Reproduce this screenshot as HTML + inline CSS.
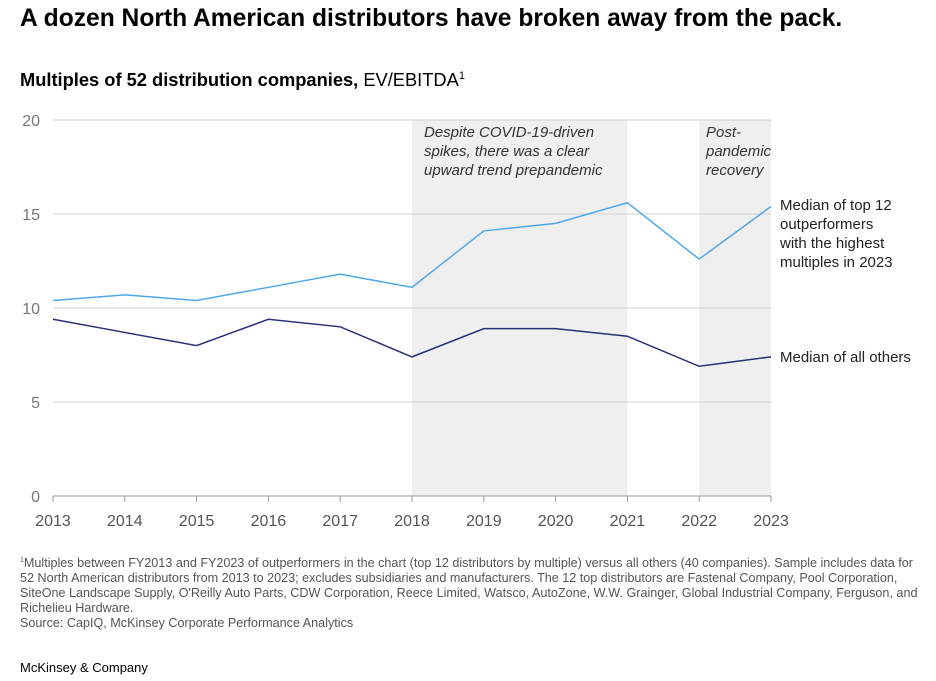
<!DOCTYPE html>
<html><head><meta charset="utf-8"><style>
body{margin:0;background:#fff;font-family:"Liberation Sans",sans-serif;color:#000;}
#wrap{position:relative;width:936px;height:681px;overflow:hidden;}
.t{position:absolute;white-space:nowrap;}
</style></head><body><div id="wrap">
<div class="t" style="left:20px;top:5px;font-size:24.6px;font-weight:bold;">A dozen North American distributors have broken away from the pack.</div>
<div class="t" style="left:20px;top:69px;font-size:18.3px;"><b>Multiples of 52 distribution companies,</b> EV/EBITDA<sup style="font-size:11px">1</sup></div>
<svg id="chart" width="936" height="681" style="position:absolute;left:0;top:0" font-family="Liberation Sans, sans-serif"></svg>
<div class="t" style="left:20px;top:553px;font-size:12.6px;color:#555;line-height:15px;white-space:normal;width:905px;"><sup style="font-size:7px">1</sup>Multiples between FY2013 and FY2023 of outperformers in the chart (top 12 distributors by multiple) versus all others (40 companies). Sample includes data for 52 North American distributors from 2013 to 2023; excludes subsidiaries and manufacturers. The 12 top distributors are Fastenal Company, Pool Corporation, SiteOne Landscape Supply, O'Reilly Auto Parts, CDW Corporation, Reece Limited, Watsco, AutoZone, W.W. Grainger, Global Industrial Company, Ferguson, and Richelieu Hardware.<br>Source: CapIQ, McKinsey Corporate Performance Analytics</div>
<div class="t" style="left:20px;top:660px;font-size:13px;">McKinsey &amp; Company</div>
</div>
<script>
const years=[2013,2014,2015,2016,2017,2018,2019,2020,2021,2022,2023];
const topSeries=[10.4,10.7,10.4,11.1,11.8,11.1,14.1,14.5,15.6,12.6,15.4];
const otherSeries=[9.4,8.7,8.0,9.4,9.0,7.4,8.9,8.9,8.5,6.9,7.4];
const yTicks=[0,5,10,15,20];
const shadeRanges=[[2018,2021],[2022,2023]];
const NS="http://www.w3.org/2000/svg";
const svg=document.getElementById('chart');
const x=y=>53+(y-2013)*(771-53)/10;
const yv=v=>496-v*(496-120)/20;
function mk(tag,attrs,parent){const e=document.createElementNS(NS,tag);for(const k in attrs)e.setAttribute(k,attrs[k]);(parent||svg).appendChild(e);return e;}
shadeRanges.forEach((r,i)=>{const e=mk('rect',{x:x(r[0]),y:yv(20),width:x(r[1])-x(r[0]),height:yv(0)-yv(20),fill:'#efefef'});

});
yTicks.forEach(t=>{const l=mk('line',{x1:53,x2:771,y1:yv(t),y2:yv(t),stroke:t===0?'#999':'#d0d0d0','stroke-width':1});


const tx=mk('text',{x:40,y:yv(t)+6,'text-anchor':'end','font-size':16,fill:'#777'});tx.textContent=t;

});
years.forEach(yr=>{const l=mk('line',{x1:x(yr),x2:x(yr),y1:yv(0),y2:yv(0)+6,stroke:'#999'});


const tx=mk('text',{x:x(yr),y:526,'text-anchor':'middle','font-size':16,fill:'#555'});tx.textContent=yr;

});
function line(vals,color,name){const p=mk('polyline',{points:vals.map((v,i)=>x(years[i])+','+yv(v)).join(' '),fill:'none',stroke:color,'stroke-width':1.5});

}
line(topSeries,'#4ea8ec','line-top-12');
line(otherSeries,'#2a2f7a','line-all-others');
function lbl(lines,xx,yy,name,italic,color){const t=mk('text',{x:xx,y:yy,'font-size':15,fill:color||'#222','font-style':italic?'italic':'normal'});


lines.forEach((s,i)=>{const ts=mk('tspan',{x:xx,dy:i?19:0},t);ts.textContent=s;});}
lbl(['Despite COVID-19-driven','spikes, there was a clear','upward trend prepandemic'],424,137,'annotation-prepandemic',true,'#333');
lbl(['Post-','pandemic','recovery'],706,137,'annotation-postpandemic',true,'#333');
lbl(['Median of top 12','outperformers','with the highest','multiples in 2023'],780,210,'legend-top-12',false);
lbl(['Median of all others'],780,362,'legend-all-others',false);
</script></body></html>
